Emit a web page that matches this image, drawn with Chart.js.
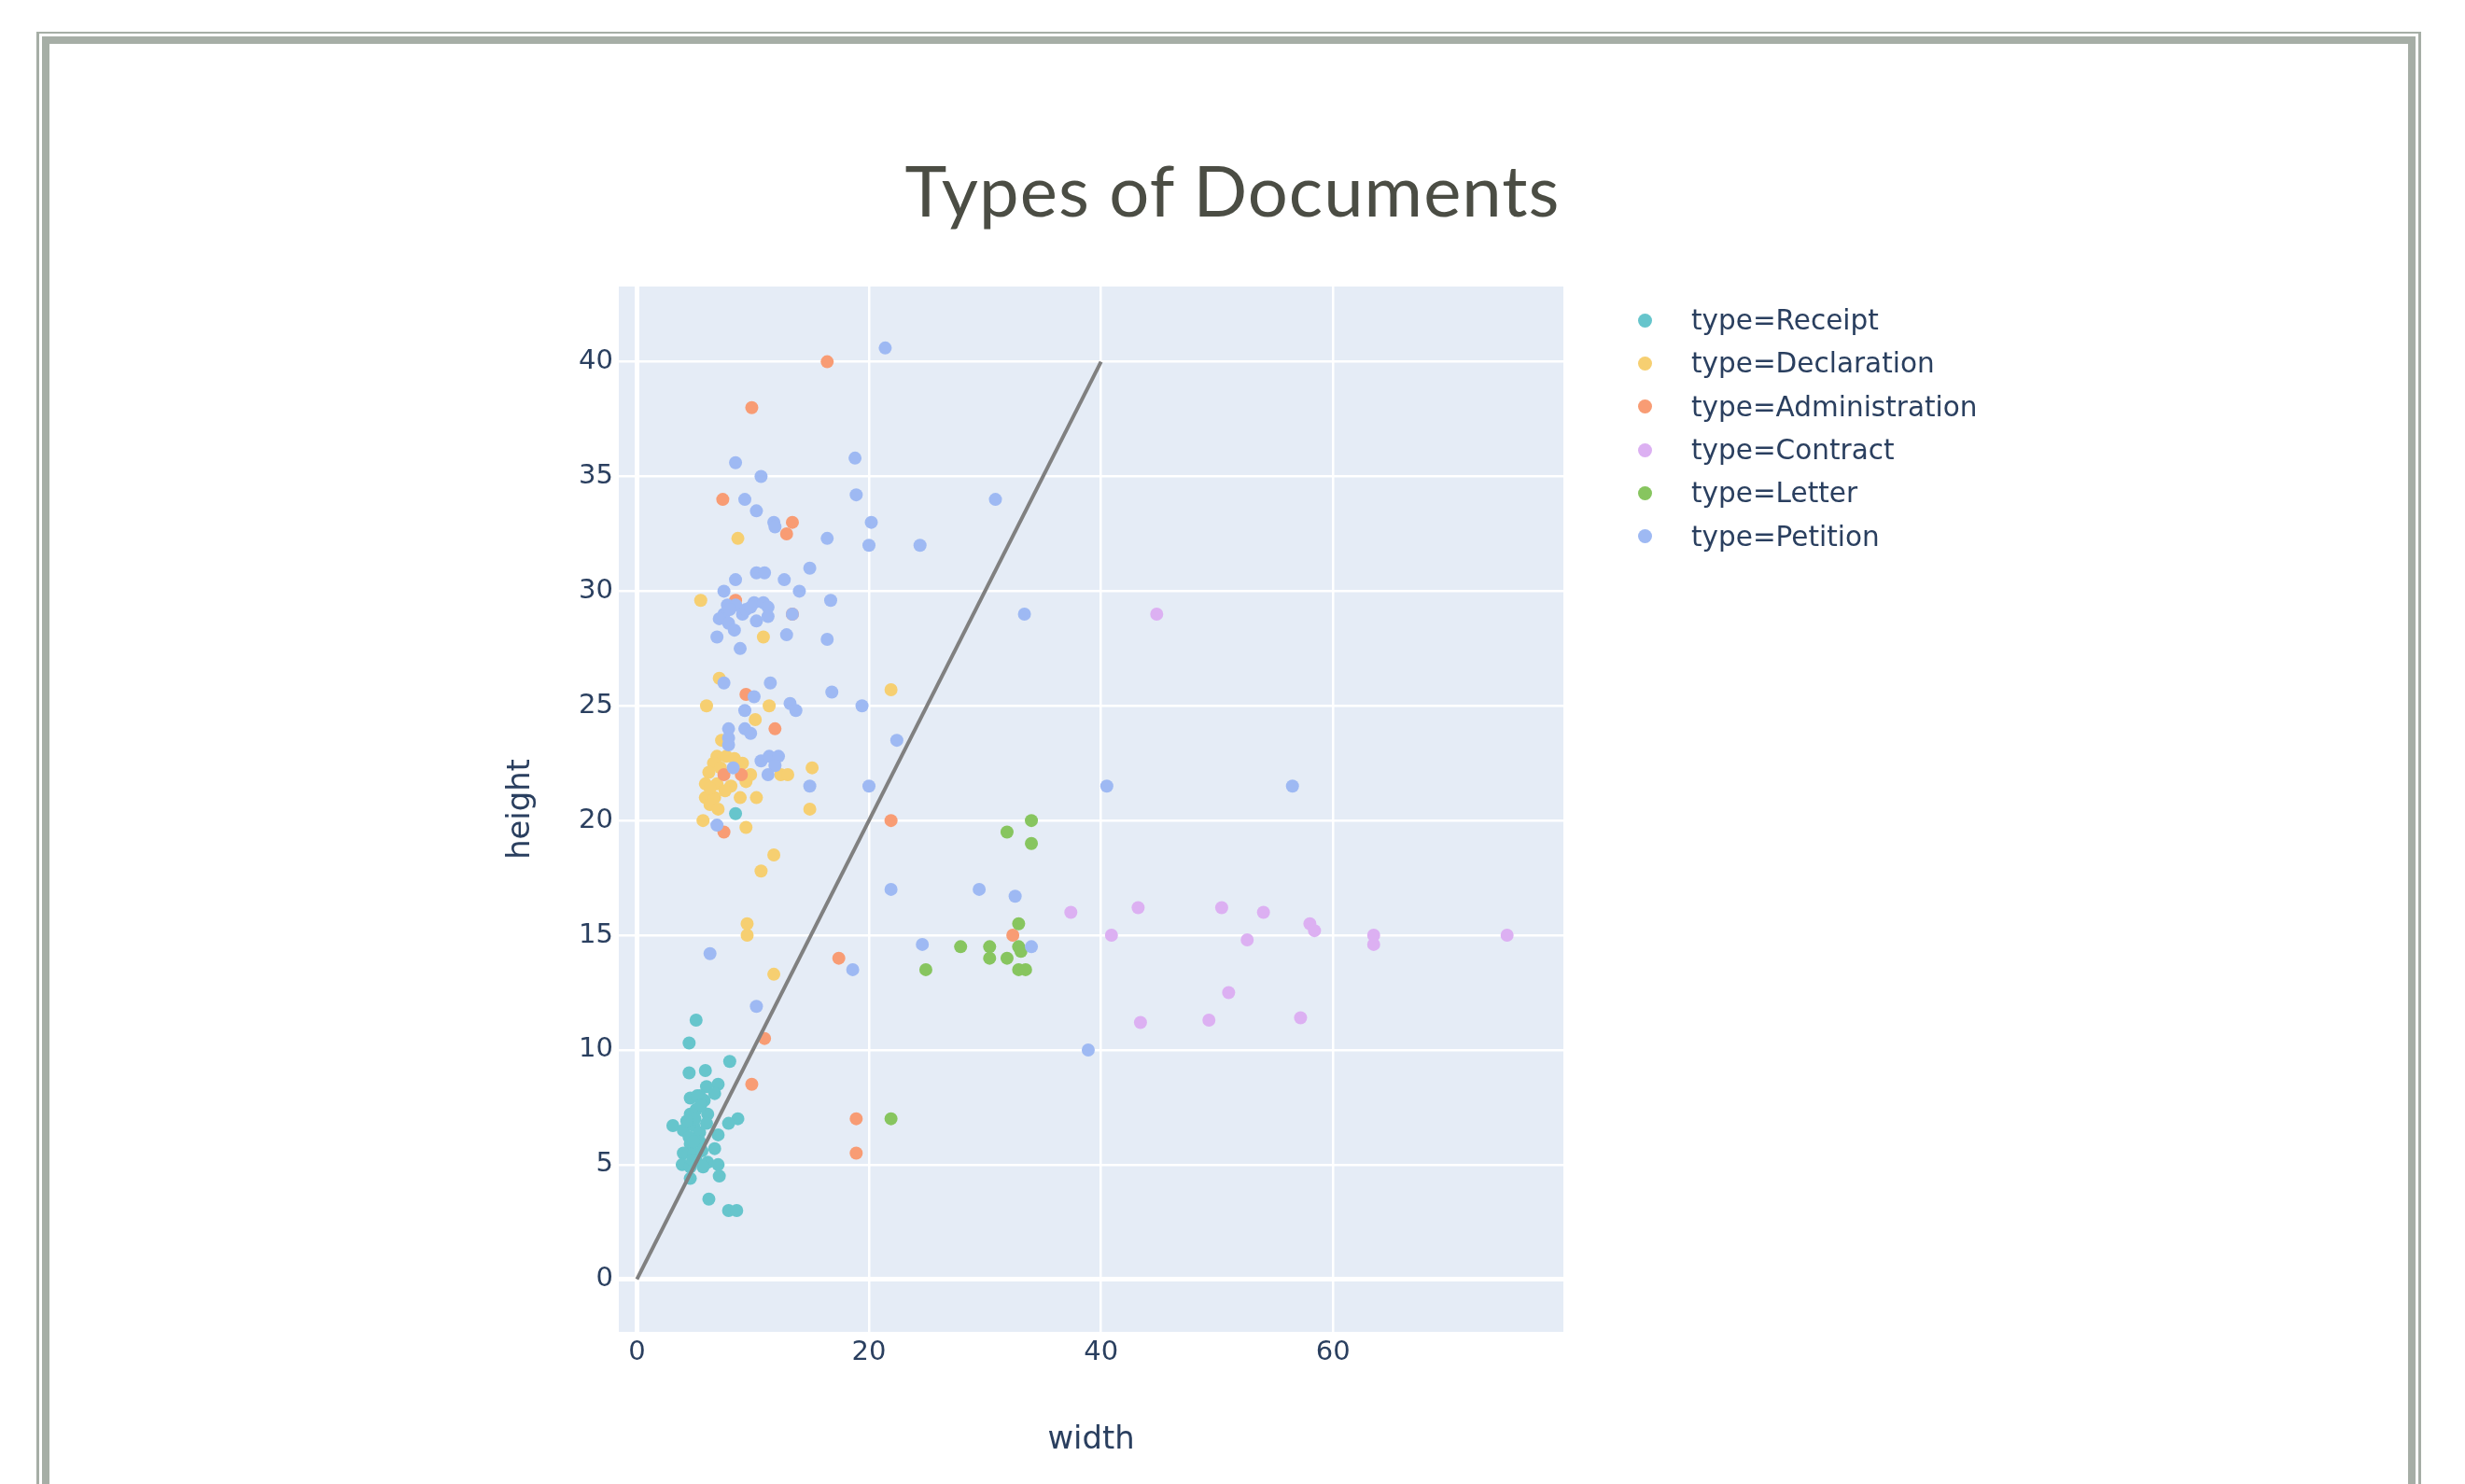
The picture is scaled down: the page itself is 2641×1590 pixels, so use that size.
<!DOCTYPE html>
<html>
<head>
<meta charset="utf-8">
<title>Types of Documents</title>
<script src="https://cdn.jsdelivr.net/npm/chart.js@4.4.1/dist/chart.umd.min.js"></script>
<style>
  html, body { margin: 0; padding: 0; background: #fff; }
  body { width: 2641px; height: 1590px; position: relative; overflow: hidden; }
  #frame-outer { position: absolute; left: 39px; top: 34px; width: 2555px; height: 1700px;
    border: 3px solid #a6aea6; border-top-width: 2px; box-sizing: border-box; }
  #frame-inner { position: absolute; left: 3px; top: 3px; right: 3px; bottom: 3px;
    border: 8px solid #a6aea6; }
  #title { position: absolute; left: 0; width: 2641px; top: 165px; text-align: center;
    font-family: Lato, "Open Sans", sans-serif; font-weight: 400; font-size: 76px; line-height: 1;
    color: #4b4d44; white-space: nowrap; }
  #title span { display: inline-block; }
  #chart-box { position: absolute; left: 0; top: 0; width: 2641px; height: 1590px; }
  #legend { position: absolute; left: 1755px; top: 320px; font-family: "DejaVu Sans", sans-serif;
    font-size: 29.5px; color: #2a3f5f; }
  #legend .row { display: flex; align-items: center; height: 46.3px; }
  #legend .dot { width: 15px; height: 15px; border-radius: 50%; margin-right: 42px; }
</style>
</head>
<body>
<div id="frame-outer"><div id="frame-inner"></div></div>
<div id="title"><span id="title-text">Types of Documents</span></div>
<div id="chart-box"><canvas id="chart"></canvas></div>
<div id="legend"></div>
<script>
// document types, in legend order
const typeNames = ['Receipt', 'Declaration', 'Administration', 'Contract', 'Letter', 'Petition'];
const typeColors = ['#66c5cc', '#f6cf71', '#f89c74', '#dcb0f2', '#87c55f', '#9eb9f3'];

// [width, height] per document
const receiptPts = [
  [5.1, 11.3], [4.5, 10.3], [8.0, 9.5], [4.5, 9.0], [5.9, 9.1], [6.0, 8.4], [7.0, 8.5],
  [6.7, 8.1], [4.6, 7.9], [5.4, 8.0], [5.8, 7.8], [4.6, 7.2], [5.1, 7.4], [6.1, 7.2],
  [8.7, 7.0], [7.9, 6.8], [3.1, 6.7], [4.0, 6.5], [4.9, 6.7], [5.4, 6.4], [4.5, 6.2],
  [7.0, 6.3], [4.6, 5.9], [6.7, 5.7], [4.0, 5.5], [4.9, 5.5], [5.1, 5.2], [3.9, 5.0],
  [4.6, 4.9], [6.1, 5.1], [7.0, 5.0], [7.1, 4.5], [4.6, 4.4], [6.2, 3.5], [7.9, 3.0],
  [8.6, 3.0], [8.5, 20.3], [5.0, 7.0], [5.4, 6.0], [4.9, 6.0], [5.6, 5.6], [5.2, 8.0],
  [4.3, 6.9], [6.0, 6.8], [5.7, 4.9], [5.5, 7.6], [4.8, 5.2]
];
const declarationPts = [
  [8.7, 32.3], [5.5, 29.6], [10.9, 28.0], [7.1, 26.2], [21.9, 25.7], [6.0, 25.0], [11.4, 25.0],
  [10.2, 24.4], [7.3, 23.5], [6.9, 22.8], [7.7, 22.8], [6.6, 22.5], [9.1, 22.5], [6.2, 22.1],
  [9.8, 22.0], [5.9, 21.6], [6.9, 21.6], [8.1, 21.5], [9.4, 21.7], [5.9, 21.0], [6.7, 21.0],
  [6.3, 20.7], [7.0, 20.5], [8.9, 21.0], [10.3, 21.0], [5.7, 20.0], [9.4, 19.7], [12.4, 22.0],
  [13.0, 22.0], [15.1, 22.3], [14.9, 20.5], [11.8, 18.5], [10.7, 17.8], [9.5, 15.5], [9.5, 15.0],
  [11.8, 13.3], [7.2, 22.3], [7.6, 21.3], [6.3, 21.4], [8.4, 22.7]
];
const administrationPts = [
  [16.4, 40.0], [9.9, 38.0], [7.4, 34.0], [13.4, 33.0], [12.9, 32.5], [8.5, 29.6], [13.4, 29.0],
  [9.4, 25.5], [11.9, 24.0], [7.5, 22.0], [9.0, 22.0], [7.5, 19.5], [21.9, 20.0], [17.4, 14.0],
  [11.0, 10.5], [9.9, 8.5], [18.9, 7.0], [18.9, 5.5], [32.4, 15.0]
];
const contractPts = [
  [44.8, 29.0], [37.4, 16.0], [43.2, 16.2], [50.4, 16.2], [54.0, 16.0], [58.0, 15.5], [58.4, 15.2],
  [63.5, 15.0], [63.5, 14.6], [75.0, 15.0], [40.9, 15.0], [52.6, 14.8], [51.0, 12.5], [43.4, 11.2],
  [49.3, 11.3], [57.2, 11.4]
];
const letterPts = [
  [21.9, 7.0], [24.9, 13.5], [27.9, 14.5], [30.4, 14.5], [30.4, 14.0], [31.9, 14.0], [31.9, 19.5],
  [32.9, 15.5], [32.9, 14.5], [33.1, 14.3], [32.9, 13.5], [33.5, 13.5], [34.0, 20.0], [34.0, 19.0]
];
const petitionPts = [
  [21.4, 40.6], [8.5, 35.6], [18.8, 35.8], [10.7, 35.0], [9.3, 34.0], [18.9, 34.2], [30.9, 34.0],
  [10.3, 33.5], [11.8, 33.0], [11.9, 32.8], [20.2, 33.0], [16.4, 32.3], [20.0, 32.0], [24.4, 32.0],
  [14.9, 31.0], [10.3, 30.8], [11.0, 30.8], [8.5, 30.5], [12.7, 30.5], [7.5, 30.0], [14.0, 30.0],
  [16.7, 29.6], [33.4, 29.0], [7.8, 29.4], [8.5, 29.4], [7.5, 29.0], [7.1, 28.8], [7.9, 28.6],
  [8.4, 28.3], [9.1, 29.0], [10.1, 29.5], [10.9, 29.5], [11.3, 29.3], [9.4, 29.2], [10.3, 28.7],
  [11.3, 28.9], [13.4, 29.0], [8.0, 29.2], [9.8, 29.3], [6.9, 28.0], [12.9, 28.1], [16.4, 27.9],
  [8.9, 27.5], [7.5, 26.0], [11.5, 26.0], [16.8, 25.6], [10.1, 25.4], [13.2, 25.1], [13.7, 24.8],
  [19.4, 25.0], [9.3, 24.8], [7.9, 24.0], [9.3, 24.0], [9.8, 23.8], [7.9, 23.6], [7.9, 23.3],
  [22.4, 23.5], [8.3, 22.3], [10.7, 22.6], [11.4, 22.8], [12.2, 22.8], [11.9, 22.4], [11.3, 22.0],
  [14.9, 21.5], [20.0, 21.5], [6.9, 19.8], [21.9, 17.0], [6.3, 14.2], [10.3, 11.9], [18.6, 13.5],
  [24.6, 14.6], [40.5, 21.5], [56.5, 21.5], [29.5, 17.0], [32.6, 16.7], [34.0, 14.5], [38.9, 10.0]
];
const typePoints = [receiptPts, declarationPts, administrationPts, contractPts, letterPts, petitionPts];

// reference line width == height
const diagonalPts = [[0, 0], [40, 40]];

const xTicks = [0, 20, 40, 60];
const yTicks = [0, 5, 10, 15, 20, 25, 30, 35, 40];

const axisColor = '#2a3f5f';
const tickFont = { family: 'DejaVu Sans', size: 29 };
const titleFont = { family: 'DejaVu Sans', size: 33.8 };

const plotBg = {
  id: 'plotBg',
  beforeDraw(chart) {
    const { ctx, chartArea: a } = chart;
    ctx.save();
    ctx.fillStyle = '#e5ecf6';
    ctx.fillRect(a.left, a.top, a.right - a.left, a.bottom - a.top);
    ctx.restore();
  }
};

function gridWidth(c) {
  return c.tick && c.tick.value === 0 ? 5 : 2.5;
}

// stretch the heading to the width it has in the source document
function fitTitle() {
  const t = document.getElementById('title-text');
  const text = t.textContent;
  const w = t.getBoundingClientRect().width;
  t.style.letterSpacing = ((702 - w) / text.length) + 'px';
}

function buildChart() {
  const datasets = typeNames.map((name, i) => ({
    label: 'type=' + name,
    data: typePoints[i].map(p => ({ x: p[0], y: p[1] })),
    backgroundColor: typeColors[i],
    borderWidth: 0,
    pointRadius: 7,
    pointHoverRadius: 7,
    order: typeNames.length - i
  }));
  datasets.push({
    label: '',
    data: diagonalPts.map(p => ({ x: p[0], y: p[1] })),
    showLine: true,
    borderColor: '#808080',
    borderWidth: 4,
    pointRadius: 0,
    order: 0
  });

  const ctx = document.getElementById('chart').getContext('2d');
  new Chart(ctx, {
    type: 'scatter',
    data: { datasets: datasets },
    plugins: [plotBg],
    options: {
      responsive: true,
      maintainAspectRatio: false,
      animation: false,
      layout: { padding: { left: 0, top: 307, right: 2641 - 1675, bottom: 0 } },
      plugins: {
        legend: { display: false },
        tooltip: { enabled: false }
      },
      scales: {
        x: {
          type: 'linear',
          min: -1.56,
          max: 79.85,
          afterBuildTicks: s => { s.ticks = xTicks.map(v => ({ value: v })); },
          afterFit: s => { s.height = 163; },
          grid: { color: '#ffffff', lineWidth: gridWidth, drawTicks: false },
          border: { display: false },
          ticks: { color: axisColor, font: tickFont, padding: 5, maxRotation: 0 },
          title: { display: true, text: 'width', color: axisColor, font: titleFont,
                   padding: { top: 0, bottom: 27 } }
        },
        y: {
          type: 'linear',
          min: -2.29,
          max: 43.28,
          afterBuildTicks: s => { s.ticks = yTicks.map(v => ({ value: v })); },
          afterFit: s => { s.width = 663; },
          grid: { color: '#ffffff', lineWidth: gridWidth, drawTicks: false },
          border: { display: false },
          ticks: { color: axisColor, font: tickFont, padding: 6 },
          title: { display: true, text: 'height', color: axisColor, font: titleFont,
                   padding: { top: 538, bottom: 0 } }
        }
      }
    }
  });

  const legend = document.getElementById('legend');
  typeNames.forEach((name, i) => {
    const row = document.createElement('div');
    row.className = 'row';
    const dot = document.createElement('span');
    dot.className = 'dot';
    dot.style.background = typeColors[i];
    const label = document.createElement('span');
    label.textContent = 'type=' + name;
    row.appendChild(dot);
    row.appendChild(label);
    legend.appendChild(row);
  });
}

window.addEventListener('load', function() {
  fitTitle();
  buildChart();
});
</script>
</body>
</html>
